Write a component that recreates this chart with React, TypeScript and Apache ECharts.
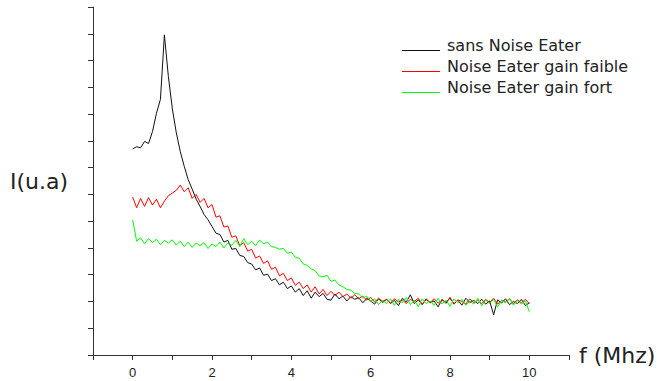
import React, { useEffect, useRef } from "react";
import * as echarts from "echarts";

const freq: number[] = [
  0.0, 0.1, 0.2, 0.3, 0.4, 0.5, 0.6, 0.7, 0.8, 0.9,
  1.0, 1.1, 1.2, 1.3, 1.4, 1.5, 1.6, 1.7, 1.8, 1.9,
  2.0, 2.1, 2.2, 2.3, 2.4, 2.5, 2.6, 2.7, 2.8, 2.9,
  3.0, 3.1, 3.2, 3.3, 3.4, 3.5, 3.6, 3.7, 3.8, 3.9,
  4.0, 4.1, 4.2, 4.3, 4.4, 4.5, 4.6, 4.7, 4.8, 4.9,
  5.0, 5.1, 5.2, 5.3, 5.4, 5.5, 5.6, 5.7, 5.8, 5.9,
  6.0, 6.1, 6.2, 6.3, 6.4, 6.5, 6.6, 6.7, 6.8, 6.9,
  7.0, 7.1, 7.2, 7.3, 7.4, 7.5, 7.6, 7.7, 7.8, 7.9,
  8.0, 8.1, 8.2, 8.3, 8.4, 8.5, 8.6, 8.7, 8.8, 8.9,
  9.0, 9.1, 9.2, 9.3, 9.4, 9.5, 9.6, 9.7, 9.8, 9.9,
  10.0,
];

const sansNoiseEater: number[] = [
  7.70, 7.78, 7.74, 7.98, 7.90, 8.35, 9.03, 9.55, 11.96, 10.40,
  9.20, 8.30, 7.60, 7.05, 6.55, 6.20, 5.82, 5.55, 5.25, 5.05,
  4.80, 4.55, 4.50, 4.22, 4.28, 3.95, 3.98, 3.72, 3.68, 3.45,
  3.40, 3.18, 3.25, 2.98, 3.02, 2.78, 2.85, 2.62, 2.72, 2.48,
  2.58, 2.35, 2.48, 2.22, 2.40, 2.12, 2.35, 2.18, 2.30, 2.08,
  2.05, 2.28, 2.10, 2.20, 2.02, 2.18, 2.08, 2.14, 1.95, 2.12,
  2.02, 1.90, 2.10, 1.96, 2.08, 1.92, 2.04, 1.85, 2.12, 1.98,
  2.25, 1.92, 2.06, 1.88, 2.10, 1.95, 2.02, 1.80, 2.08, 1.93,
  2.15, 1.90, 2.05, 1.86, 2.12, 1.96, 2.04, 1.92, 2.08, 1.90,
  2.02, 1.50, 2.06, 1.94, 2.10, 1.88, 2.00, 1.92, 2.08, 1.85,
  1.95,
];

const gainFaible: number[] = [
  5.90, 5.50, 5.85, 5.55, 5.88, 5.60, 5.82, 5.50, 5.75, 5.95,
  6.05, 6.15, 6.35, 6.10, 6.25, 5.85, 6.00, 5.70, 5.85, 5.50,
  5.62, 5.15, 5.20, 4.78, 4.82, 4.40, 4.45, 4.08, 4.20, 3.88,
  3.95, 3.62, 3.70, 3.42, 3.52, 3.20, 3.28, 2.95, 3.05, 2.78,
  2.88, 2.60, 2.72, 2.48, 2.62, 2.35, 2.55, 2.28, 2.45, 2.22,
  2.38, 2.22, 2.35, 2.18, 2.28, 2.12, 2.25, 2.10, 2.20, 2.05,
  2.15, 1.98, 2.12, 2.00, 2.08, 1.94, 2.10, 1.98, 2.05, 1.92,
  2.08, 2.00, 2.12, 1.90, 2.06, 1.96, 2.10, 1.94, 2.04, 1.98,
  2.12, 1.92, 2.06, 2.00, 1.90, 2.10, 1.95, 2.05, 1.92, 2.08,
  1.96, 2.12, 1.90, 2.04, 1.98, 2.10, 1.92, 2.06, 1.95, 2.08,
  1.92,
];

const gainFort: number[] = [
  5.05, 4.25, 4.38, 4.15, 4.35, 4.20, 4.32, 4.12, 4.28, 4.18,
  4.30, 4.10, 4.25, 4.05, 4.22, 4.02, 4.18, 4.08, 4.20, 3.98,
  4.15, 4.05, 4.22, 4.00, 4.18, 4.10, 4.28, 4.05, 4.35, 4.12,
  4.25, 4.08, 4.30, 4.15, 4.22, 4.05, 4.02, 3.95, 3.98, 3.80,
  3.85, 3.65, 3.62, 3.40, 3.35, 3.22, 3.15, 2.95, 2.92, 2.98,
  2.75, 2.80, 2.62, 2.55, 2.45, 2.42, 2.30, 2.28, 2.12, 2.20,
  2.00, 2.10, 1.88, 2.05, 1.92, 2.10, 1.85, 2.08, 1.95, 2.15,
  1.88, 2.05, 1.80, 2.10, 1.92, 2.02, 1.85, 2.12, 1.90, 2.05,
  1.82, 2.10, 1.95, 2.08, 1.86, 2.02, 1.90, 2.12, 1.84, 2.06,
  1.92, 2.08, 1.80, 2.04, 1.95, 2.10, 1.86, 2.05, 1.90, 2.02,
  1.62,
];

const seriesNames: string[] = [
  "sans Noise Eater",
  "Noise Eater gain faible",
  "Noise Eater gain fort",
];
const seriesColors: string[] = ["#111111", "#ff0000", "#00ff00"];
const xTickLabels: number[] = [0, 2, 4, 6, 8, 10];

const pair = (ys: number[]) => freq.map((x, i) => [x, ys[i]]);

export default function App() {
  const ref = useRef<HTMLDivElement>(null);
  useEffect(() => {
    if (!ref.current) return;
    const chart = echarts.init(ref.current, undefined, { renderer: "svg" });
    const allData = [sansNoiseEater, gainFaible, gainFort];
    chart.setOption({
      animation: false,
      backgroundColor: "#ffffff",
      grid: { left: 93, right: 90, top: 7, bottom: 26, containLabel: false },
      legend: {
        orient: "vertical",
        left: 397,
        top: 32,
        itemWidth: 38,
        itemHeight: 12,
        itemGap: 5,
        icon: "path://M0,0M0,11H38V12H0Z",
        data: seriesNames,
        textStyle: {
          fontFamily: "DejaVu Sans",
          fontSize: 16,
          lineHeight: 16,
          color: "#222222",
          padding: [0, 0, 0, 2],
        },
      },
      xAxis: {
        type: "value",
        min: -1,
        max: 11,
        interval: 1,
        name: "f (Mhz)",
        nameLocation: "end",
        nameGap: 10,
        nameTextStyle: { fontFamily: "DejaVu Sans", fontSize: 22, color: "#222222" },
        axisLine: { lineStyle: { color: "#333333", width: 1 } },
        axisTick: { show: true, inside: false, length: 5, lineStyle: { color: "#333333" } },
        axisLabel: {
          fontFamily: "Liberation Sans",
          fontSize: 13,
          color: "#222222",
          margin: 11,
          showMinLabel: true,
          showMaxLabel: true,
          formatter: (v: number) => (xTickLabels.indexOf(v) >= 0 ? String(v) : ""),
        },
        splitLine: { show: false },
      },
      yAxis: {
        type: "value",
        min: 0,
        max: 13,
        interval: 1,
        name: "I(u.a)",
        nameLocation: "middle",
        nameRotate: 0,
        nameGap: 25,
        nameTextStyle: { fontFamily: "DejaVu Sans", fontSize: 22, color: "#222222", align: "right" },
        axisLine: { show: true, onZero: false, lineStyle: { color: "#333333", width: 1 } },
        axisTick: { show: true, inside: false, length: 5, lineStyle: { color: "#333333" } },
        axisLabel: { show: false },
        splitLine: { show: false },
      },
      series: seriesNames.map((name, i) => ({
        name,
        type: "line",
        data: pair(allData[i]),
        showSymbol: false,
        symbol: "none",
        lineStyle: { color: seriesColors[i], width: 1 },
        itemStyle: { color: seriesColors[i] },
        z: 2 + i,
      })),
    });
    return () => chart.dispose();
  }, []);
  return <div ref={ref} style={{ width: 659, height: 381, position: "absolute", left: 0, top: 0 }} />;
}
